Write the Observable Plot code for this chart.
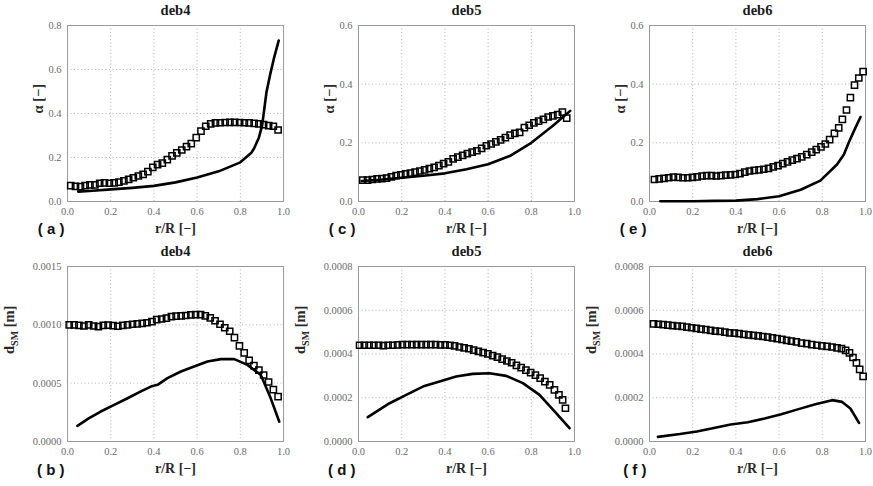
<!DOCTYPE html>
<html>
<head>
<meta charset="utf-8">
<script src="https://cdn.jsdelivr.net/npm/d3@7"></script>
<script src="https://cdn.jsdelivr.net/npm/@observablehq/plot@0.6"></script>
<style>
  html, body { margin: 0; padding: 0; background: #fff; }
  #root { position: relative; width: 873px; height: 486px; background: #fff; overflow: hidden; }
  .panel { position: absolute; width: 291px; height: 243px; }
  .panel svg, .panel svg text { font-family: "Liberation Serif", "DejaVu Serif", serif; }
  .panel svg text.sans { font-family: "Liberation Sans", Arial, sans-serif; }
</style>
</head>
<body>
<div id="root"></div>
<script>
// ---------- shared ticks ----------
const xTicks = [0, 0.2, 0.4, 0.6, 0.8, 1.0];
const alphaTicksA = [0, 0.2, 0.4, 0.6, 0.8];
const alphaTicksCE = [0, 0.2, 0.4, 0.6];
const dTicksB = [0, 0.0005, 0.0010, 0.0015];
const dTicksDF = [0, 0.0002, 0.0004, 0.0006, 0.0008];

// ---------- panel (a) deb4, alpha ----------
const aSqX = [0.015,0.037,0.060,0.082,0.104,0.127,0.149,0.171,0.194,0.216,0.238,0.261,0.283,0.305,0.328,0.350,0.372,0.395,0.417,0.439,0.462,0.484,0.506,0.529,0.551,0.573,0.596,0.618,0.640,0.663,0.685,0.707,0.730,0.752,0.774,0.797,0.819,0.841,0.864,0.886,0.908,0.931,0.953,0.975];
const aSqY = [0.072,0.069,0.068,0.072,0.076,0.076,0.083,0.085,0.083,0.085,0.088,0.094,0.101,0.108,0.116,0.123,0.136,0.155,0.168,0.174,0.190,0.207,0.221,0.234,0.249,0.263,0.290,0.320,0.342,0.353,0.357,0.358,0.359,0.360,0.360,0.359,0.358,0.357,0.355,0.353,0.349,0.345,0.342,0.325];
const aLnX = [0.05,0.10,0.20,0.30,0.40,0.50,0.60,0.70,0.80,0.85,0.863,0.886,0.901,0.909,0.921,0.937,0.955,0.978];
const aLnY = [0.045,0.048,0.055,0.062,0.071,0.087,0.109,0.137,0.178,0.220,0.240,0.290,0.345,0.405,0.496,0.572,0.648,0.732];

// ---------- panel (c) deb5, alpha ----------
const cSqX = [0.020,0.042,0.064,0.086,0.108,0.130,0.152,0.174,0.196,0.218,0.240,0.262,0.284,0.306,0.328,0.350,0.372,0.394,0.416,0.438,0.460,0.482,0.504,0.526,0.548,0.570,0.592,0.614,0.636,0.658,0.680,0.702,0.724,0.746,0.768,0.790,0.812,0.834,0.856,0.878,0.900,0.922,0.944,0.964];
const cSqY = [0.073,0.073,0.075,0.077,0.078,0.080,0.084,0.088,0.091,0.094,0.097,0.100,0.104,0.108,0.112,0.116,0.122,0.129,0.135,0.145,0.151,0.157,0.163,0.168,0.173,0.181,0.190,0.196,0.203,0.210,0.218,0.226,0.232,0.236,0.252,0.260,0.268,0.274,0.280,0.288,0.292,0.296,0.305,0.284];
const cLnX = [0.015,0.10,0.20,0.30,0.40,0.50,0.60,0.70,0.80,0.90,0.98];
const cLnY = [0.070,0.074,0.081,0.088,0.096,0.110,0.127,0.155,0.200,0.258,0.309];

// ---------- panel (e) deb6, alpha ----------
const eSqX = [0.023,0.045,0.067,0.089,0.111,0.133,0.155,0.177,0.199,0.221,0.243,0.265,0.287,0.309,0.331,0.353,0.375,0.397,0.419,0.441,0.463,0.485,0.507,0.529,0.551,0.573,0.595,0.617,0.639,0.661,0.683,0.705,0.728,0.751,0.772,0.794,0.814,0.834,0.856,0.876,0.893,0.912,0.930,0.949,0.969,0.989];
const eSqY = [0.075,0.077,0.079,0.081,0.083,0.082,0.081,0.081,0.082,0.084,0.087,0.088,0.088,0.087,0.088,0.090,0.091,0.092,0.095,0.100,0.104,0.106,0.108,0.110,0.113,0.118,0.122,0.129,0.135,0.141,0.146,0.152,0.160,0.168,0.177,0.186,0.196,0.211,0.232,0.251,0.280,0.312,0.354,0.397,0.421,0.443];
const eLnX = [0.05,0.20,0.30,0.40,0.50,0.60,0.70,0.791,0.868,0.90,0.922,0.953,0.977];
const eLnY = [0.001,0.001,0.002,0.003,0.008,0.018,0.040,0.071,0.126,0.160,0.200,0.251,0.288];

// ---------- panel (b) deb4, d_SM ----------
const bSqX = [0.008,0.031,0.053,0.076,0.098,0.121,0.143,0.166,0.188,0.211,0.233,0.256,0.278,0.301,0.323,0.346,0.368,0.391,0.413,0.436,0.458,0.481,0.503,0.526,0.548,0.571,0.593,0.616,0.638,0.661,0.683,0.706,0.728,0.751,0.773,0.796,0.818,0.841,0.863,0.886,0.908,0.931,0.953,0.975];
const bSqY = [0.001000,0.001000,0.000996,0.000990,0.001000,0.000990,0.000985,0.000995,0.000998,0.000993,0.000988,0.000996,0.001000,0.001005,0.001008,0.001012,0.001018,0.001028,0.001044,0.001050,0.001058,0.001070,0.001074,0.001076,0.001080,0.001085,0.001088,0.001087,0.001077,0.001060,0.001035,0.001005,0.000975,0.000945,0.000890,0.000820,0.000760,0.000695,0.000650,0.000612,0.000570,0.000510,0.000445,0.000385];
const bLnX = [0.046,0.10,0.154,0.216,0.278,0.34,0.386,0.417,0.463,0.525,0.586,0.648,0.71,0.772,0.833,0.895,0.941,0.98];
const bLnY = [0.000134,0.000200,0.000257,0.000314,0.000371,0.000429,0.000471,0.000486,0.000543,0.000600,0.000643,0.000686,0.000706,0.000706,0.000657,0.000571,0.000370,0.000171];

// ---------- panel (d) deb5, d_SM ----------
const dSqX = [0.005,0.027,0.049,0.071,0.093,0.115,0.137,0.159,0.181,0.203,0.225,0.247,0.269,0.291,0.313,0.335,0.357,0.379,0.401,0.423,0.445,0.467,0.489,0.511,0.533,0.555,0.577,0.599,0.621,0.643,0.665,0.687,0.709,0.731,0.753,0.775,0.797,0.819,0.841,0.863,0.885,0.907,0.928,0.945,0.958];
const dSqY = [0.000440,0.000440,0.000440,0.000440,0.000440,0.000438,0.000440,0.000440,0.000442,0.000443,0.000443,0.000443,0.000443,0.000443,0.000443,0.000443,0.000443,0.000442,0.000442,0.000440,0.000437,0.000432,0.000428,0.000424,0.000418,0.000412,0.000406,0.000401,0.000393,0.000386,0.000377,0.000368,0.000360,0.000348,0.000338,0.000326,0.000315,0.000303,0.000290,0.000274,0.000259,0.000236,0.000213,0.000190,0.000152];
const dLnX = [0.043,0.144,0.221,0.298,0.375,0.452,0.529,0.606,0.684,0.761,0.838,0.915,0.977];
const dLnY = [0.000111,0.000175,0.000213,0.000251,0.000274,0.000297,0.000309,0.000312,0.000300,0.000267,0.000213,0.000130,0.000061];

// ---------- panel (f) deb6, d_SM ----------
const fSqX = [0.019,0.041,0.063,0.085,0.107,0.129,0.151,0.173,0.195,0.217,0.239,0.261,0.283,0.305,0.327,0.349,0.371,0.393,0.415,0.437,0.459,0.481,0.503,0.525,0.547,0.569,0.591,0.613,0.635,0.657,0.680,0.704,0.728,0.751,0.775,0.798,0.822,0.845,0.868,0.889,0.908,0.926,0.942,0.958,0.973,0.989];
const fSqY = [0.000538,0.000536,0.000534,0.000532,0.000530,0.000528,0.000526,0.000523,0.000520,0.000517,0.000514,0.000511,0.000508,0.000505,0.000503,0.000500,0.000497,0.000495,0.000493,0.000490,0.000487,0.000485,0.000483,0.000480,0.000477,0.000474,0.000470,0.000467,0.000462,0.000459,0.000455,0.000450,0.000447,0.000443,0.000440,0.000437,0.000435,0.000432,0.000428,0.000425,0.000417,0.000405,0.000384,0.000359,0.000330,0.000298];
const fLnX = [0.039,0.141,0.219,0.298,0.376,0.455,0.533,0.61,0.69,0.768,0.845,0.892,0.93,0.97];
const fLnY = [0.000021,0.000034,0.000046,0.000062,0.000078,0.000088,0.000105,0.000125,0.000148,0.000170,0.000189,0.000181,0.000151,0.000085];

const titles = ["deb4", "deb5", "deb6"];
const letters = ["( a )", "( c )", "( e )", "( b )", "( d )", "( f )"];
const xLabel = "r/R [\u2212]";
const alphaLabel = "\u03b1 [\u2212]";
const dLabel = "dSM [m]";

function panel(o) {
  const sq = d3.range(o.sqX.length);
  const ln = d3.range(o.lnX.length);
  const top = o.row === 0;
  const svg = Plot.plot({
    width: 291,
    height: 243,
    marginLeft: 67,
    marginRight: 8,
    marginTop: top ? 25 : 23,
    marginBottom: top ? 42 : 45,
    style: { fontSize: "10.5px", color: "#6a6a6a", background: "white", overflow: "visible" },
    x: { domain: [0, 1], ticks: xTicks, tickFormat: d3.format(".1f"), tickSize: 0, tickPadding: 6, label: null },
    y: { domain: o.yDomain, ticks: o.yTicks, tickFormat: d3.format(o.yFmt), tickSize: 0, tickPadding: 6, label: null },
    marks: [
      Plot.gridX(xTicks, { stroke: "#999", strokeOpacity: 0.9, strokeWidth: 0.8, strokeDasharray: "1,2.5" }),
      Plot.gridY(o.yTicks, { stroke: "#999", strokeOpacity: 0.9, strokeWidth: 0.8, strokeDasharray: "1,2.5" }),
      Plot.frame({ stroke: "#9a9a9a", strokeWidth: 1 }),
      Plot.line(ln, { x: i => o.lnX[i], y: i => o.lnY[i], stroke: "#000", strokeWidth: 2.6, curve: "linear" }),
      Plot.dot(sq, { x: i => o.sqX[i], y: i => o.sqY[i], symbol: "square", r: 3.5, stroke: "#000", strokeWidth: 1.5, fill: "none" }),
      Plot.text([o.title], { text: d => d, frameAnchor: "top", lineAnchor: "bottom", dy: -11, fontSize: 14.5, fontWeight: "bold", fill: "#1a1a1a" }),
      Plot.text([xLabel], { text: d => d, frameAnchor: "bottom", lineAnchor: "middle", dy: 27, fontSize: 14, fontWeight: "bold", fill: "#2a2a2a" }),
      Plot.text([o.ylabel], { text: d => d, frameAnchor: "left", lineAnchor: "middle", rotate: -90, dx: top ? -29 : -58, fontSize: 14.5, fontWeight: "bold", fill: "#2a2a2a" }),
      Plot.text([o.letter], { text: d => d, frameAnchor: "bottom-left", textAnchor: "end", lineAnchor: "middle", dx: -3, dy: top ? 28 : 29, fontSize: 15, fontWeight: "bold", fill: "#111" })
    ]
  });
  const s = d3.select(svg);
  // panel letters in a sans face
  s.selectAll("text").filter(function () { return letters.includes(this.textContent); }).classed("sans", true);
  // subscript for d_SM
  s.selectAll("text").filter(function () { return this.textContent === dLabel; })
    .each(function () {
      const t = d3.select(this);
      t.text(null);
      t.append("tspan").text("d");
      t.append("tspan").attr("dy", 4).attr("font-size", 10).text("SM");
      t.append("tspan").attr("dy", -4).text(" [m]");
    });
  return svg;
}

const configs = [
  { sqX: aSqX, sqY: aSqY, lnX: aLnX, lnY: aLnY, yDomain: [0, 0.8], yTicks: alphaTicksA, yFmt: ".1f", title: titles[0], letter: letters[0], ylabel: alphaLabel, row: 0, col: 0 },
  { sqX: cSqX, sqY: cSqY, lnX: cLnX, lnY: cLnY, yDomain: [0, 0.6], yTicks: alphaTicksCE, yFmt: ".1f", title: titles[1], letter: letters[1], ylabel: alphaLabel, row: 0, col: 1 },
  { sqX: eSqX, sqY: eSqY, lnX: eLnX, lnY: eLnY, yDomain: [0, 0.6], yTicks: alphaTicksCE, yFmt: ".1f", title: titles[2], letter: letters[2], ylabel: alphaLabel, row: 0, col: 2 },
  { sqX: bSqX, sqY: bSqY, lnX: bLnX, lnY: bLnY, yDomain: [0, 0.0015], yTicks: dTicksB, yFmt: ".4f", title: titles[0], letter: letters[3], ylabel: dLabel, row: 1, col: 0 },
  { sqX: dSqX, sqY: dSqY, lnX: dLnX, lnY: dLnY, yDomain: [0, 0.0008], yTicks: dTicksDF, yFmt: ".4f", title: titles[1], letter: letters[4], ylabel: dLabel, row: 1, col: 1 },
  { sqX: fSqX, sqY: fSqY, lnX: fLnX, lnY: fLnY, yDomain: [0, 0.0008], yTicks: dTicksDF, yFmt: ".4f", title: titles[2], letter: letters[5], ylabel: dLabel, row: 1, col: 2 }
];

const root = document.getElementById("root");
for (const c of configs) {
  const div = document.createElement("div");
  div.className = "panel";
  div.style.left = (c.col * 291) + "px";
  div.style.top = (c.row * 243) + "px";
  div.appendChild(panel(c));
  root.appendChild(div);
}
</script>
</body>
</html>
